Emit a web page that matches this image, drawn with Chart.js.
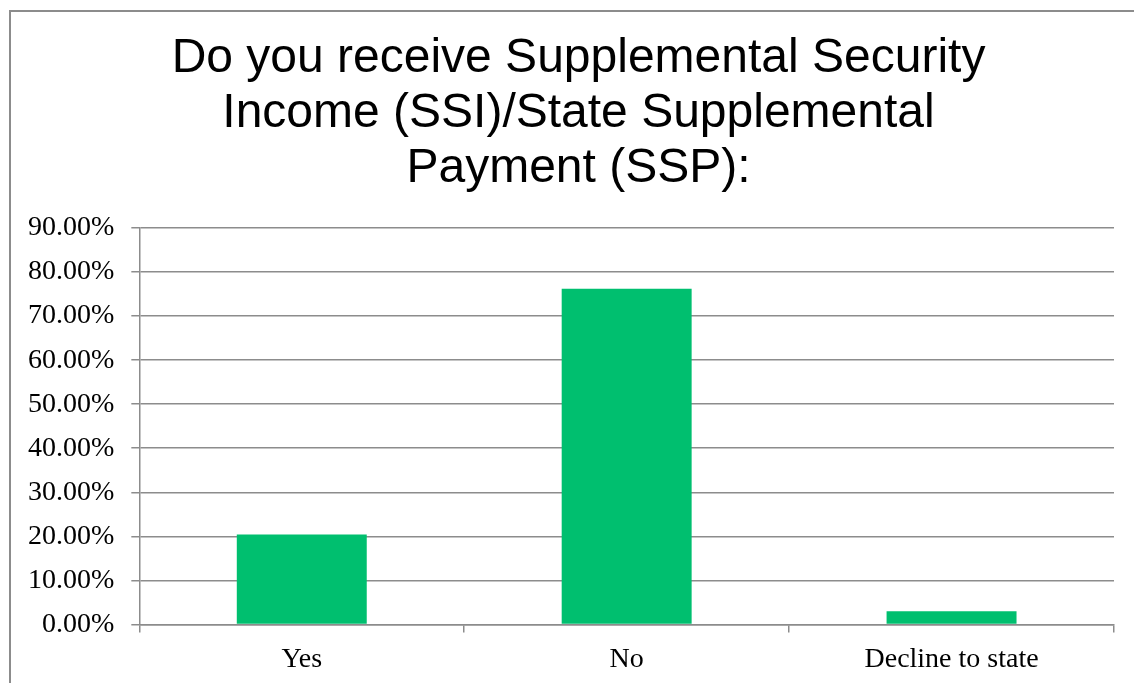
<!DOCTYPE html>
<html>
<head>
<meta charset="utf-8">
<script src="https://cdn.jsdelivr.net/npm/chart.js@4/dist/chart.umd.min.js"></script>
<style>
  html, body { margin: 0; padding: 0; background: #fff; }
  #wrap { position: relative; width: 1134px; height: 683px; overflow: hidden; }
  #frame {
    position: absolute; left: 9px; top: 10px; width: 1200px; height: 800px;
    border-left: 2px solid #8c8c8c; border-top: 2px solid #8c8c8c;
    pointer-events: none;
  }
</style>
</head>
<body>
<div id="wrap">
  <canvas id="chart" width="1134" height="683"></canvas>
  <div id="frame"></div>
</div>
<script>
const titleLines = [
  "Do you receive Supplemental Security",
  "Income (SSI)/State Supplemental",
  "Payment (SSP):",
];
const categories = ["Yes", "No", "Decline to state"];
const shares = [20.4, 76.2, 3.0];
const yMax = 90;
const yStep = 10;

const axisGray = "#8c8c8c";
const barGreen = "#00bf6f";
const labelFont = { family: "'Liberation Serif', 'Times New Roman', serif", size: 28 };

// the original title sits a little right of the canvas centre
const nudgeTitle = {
  id: "nudgeTitle",
  afterLayout(chart) {
    if (chart.titleBlock) chart.titleBlock.left += 32;
  },
};

new Chart(document.getElementById("chart").getContext("2d"), {
  type: "bar",
  data: {
    labels: categories,
    datasets: [
      {
        data: shares,
        backgroundColor: barGreen,
        borderWidth: 0,
        barPercentage: 0.4,
        categoryPercentage: 1,
      },
    ],
  },
  options: {
    animation: false,
    responsive: false,
    layout: { padding: { left: 11, right: 20, top: 0, bottom: -3 } },
    scales: {
      x: {
        grid: {
          drawOnChartArea: false,
          drawTicks: true,
          tickLength: 8,
          color: axisGray,
          lineWidth: 1.5,
        },
        border: { color: axisGray, width: 1.5 },
        ticks: { color: "#000", font: labelFont, padding: 10 },
      },
      y: {
        min: 0,
        max: yMax,
        grid: { color: axisGray, lineWidth: 1.5, tickLength: 8 },
        border: { color: axisGray, width: 1.5 },
        ticks: {
          stepSize: yStep,
          color: "#000",
          font: labelFont,
          padding: 17,
          callback: (value) => `${value.toFixed(2)}%`,
        },
      },
    },
    plugins: {
      legend: { display: false },
      tooltip: { enabled: false },
      title: {
        display: true,
        text: titleLines,
        color: "#000",
        font: { family: "'Liberation Sans', Arial, sans-serif", size: 48, weight: "normal", lineHeight: 1.146 },
        padding: { top: 31, bottom: 32 },
      },
    },
  },
  plugins: [nudgeTitle],
});
</script>
</body>
</html>
